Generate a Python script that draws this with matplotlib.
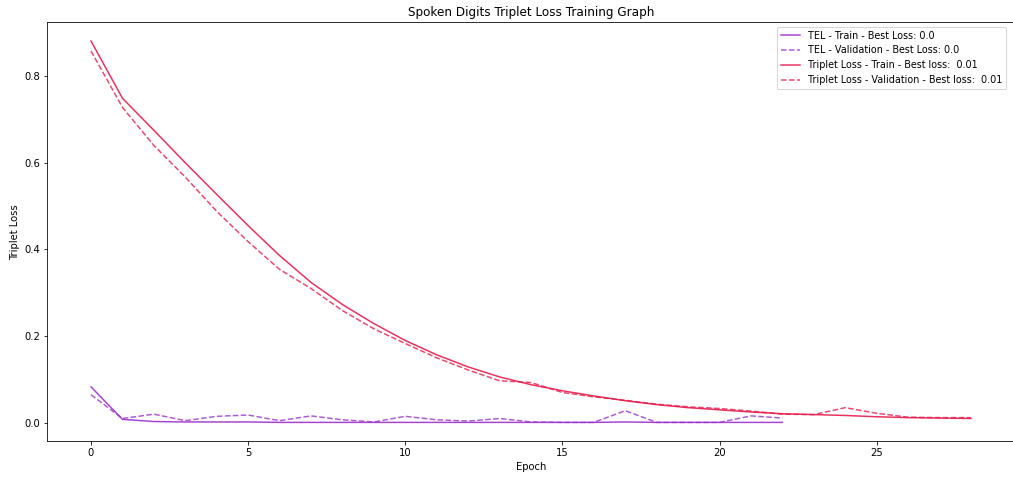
import matplotlib
matplotlib.use("Agg")
import matplotlib.pyplot as plt

epochs_triplet = list(range(29))
epochs_tel = list(range(23))

triplet_train = [0.881, 0.749, 0.675, 0.600, 0.527, 0.455, 0.386, 0.324, 0.273, 0.229,
                 0.190, 0.157, 0.129, 0.106, 0.088, 0.074, 0.062, 0.051, 0.042, 0.035,
                 0.030, 0.025, 0.021, 0.019, 0.017, 0.014, 0.012, 0.011, 0.010]
triplet_val = [0.858, 0.728, 0.640, 0.567, 0.488, 0.418, 0.354, 0.310, 0.259, 0.217,
               0.183, 0.150, 0.122, 0.097, 0.093, 0.070, 0.060, 0.052, 0.043, 0.037,
               0.033, 0.027, 0.020, 0.019, 0.035, 0.022, 0.013, 0.012, 0.012]
tel_train = [0.083, 0.008, 0.003, 0.002, 0.002, 0.002, 0.001, 0.001, 0.001, 0.001,
             0.001, 0.001, 0.001, 0.001, 0.001, 0.001, 0.001, 0.002, 0.001, 0.001,
             0.001, 0.001, 0.001]
tel_val = [0.065, 0.010, 0.020, 0.005, 0.015, 0.018, 0.005, 0.016, 0.007, 0.002,
           0.015, 0.007, 0.004, 0.010, 0.002, 0.001, 0.001, 0.028, 0.001, 0.001,
           0.001, 0.016, 0.011]

labels = ["TEL - Train - Best Loss: 0.0",
          "TEL - Validation - Best Loss: 0.0",
          "Triplet Loss - Train - Best loss:  0.01",
          "Triplet Loss - Validation - Best loss:  0.01"]

tel_color = "#9d2fcc"
trip_color = "#e8194a"

fig = plt.figure(figsize=(1013/72, 477/72), dpi=72)
ax = fig.add_axes([0.0464, 0.0745, 0.9555, 0.8795])
ax.plot(epochs_tel, tel_train, color=tel_color, alpha=0.9, label=labels[0])
ax.plot(epochs_tel, tel_val, color=tel_color, alpha=0.8, linestyle="--", label=labels[1])
ax.plot(epochs_triplet, triplet_train, color=trip_color, alpha=0.9, label=labels[2])
ax.plot(epochs_triplet, triplet_val, color=trip_color, alpha=0.8, linestyle="--", label=labels[3])
ax.set_title("Spoken Digits Triplet Loss Training Graph")
ax.set_xlabel("Epoch")
ax.set_ylabel("Triplet Loss")
ax.legend(loc="upper right", bbox_to_anchor=(0.9955, 1.0), fontsize=9.6)
fig.savefig("out.png", dpi=72)
